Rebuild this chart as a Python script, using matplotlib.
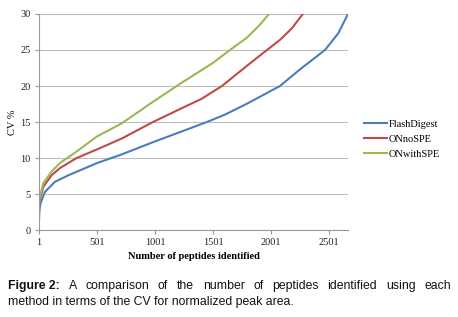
import matplotlib
matplotlib.use("Agg")
import matplotlib.pyplot as plt

# Data
flash_x = [1, 5, 15, 52, 138, 253, 501, 713, 983, 1216, 1431, 1600, 1800, 2078, 2250, 2466, 2580, 2664]
flash_y = [1.2, 2.8, 3.7, 5.3, 6.7, 7.6, 9.3, 10.5, 12.2, 13.6, 14.9, 16.0, 17.6, 20.0, 22.3, 25.0, 27.3, 30.0]

nospe_x = [1, 5, 38, 109, 181, 325, 501, 713, 983, 1216, 1400, 1578, 1793, 1966, 2078, 2180, 2276]
nospe_y = [2.3, 4.0, 6.0, 7.6, 8.6, 10.0, 11.2, 12.7, 15.0, 16.8, 18.2, 20.0, 22.8, 25.0, 26.4, 28.0, 30.0]

withspe_x = [1, 5, 38, 109, 181, 325, 501, 713, 983, 1216, 1500, 1647, 1793, 1905, 1983]
withspe_y = [2.7, 4.3, 6.5, 8.1, 9.3, 10.9, 13.0, 14.8, 17.8, 20.3, 23.2, 25.0, 26.7, 28.5, 30.0]

x_ticks = [1, 501, 1001, 1501, 2001, 2501]
y_ticks = [0, 5, 10, 15, 20, 25, 30]

serif = ["Liberation Serif", "DejaVu Serif"]
sans = ["Liberation Sans", "DejaVu Sans"]

fig = plt.figure(figsize=(4.58, 3.17), dpi=100)
ax = fig.add_axes([0.085, 0.274, 0.675, 0.682])

ax.plot(flash_x, flash_y, color="#4a7ebb", lw=1.5, label="FlashDigest")
ax.plot(nospe_x, nospe_y, color="#be4b48", lw=1.5, label="ONnoSPE")
ax.plot(withspe_x, withspe_y, color="#98b954", lw=1.5, label="ONwithSPE")

ax.set_xlim(1, 2665)
ax.set_ylim(0, 30)
ax.set_xticks(x_ticks)
ax.set_yticks(y_ticks)
ax.set_xticklabels([str(t) for t in x_ticks], fontfamily=serif, fontsize=7.5)
ax.set_yticklabels([str(t) for t in y_ticks], fontfamily=serif, fontsize=7.5)
ax.yaxis.grid(True, color="#bfbfbf", lw=0.8)
ax.set_axisbelow(True)
for s in ["top", "right"]:
    ax.spines[s].set_visible(False)
for s in ["left", "bottom"]:
    ax.spines[s].set_color("#999999")
    ax.spines[s].set_linewidth(0.8)
ax.tick_params(axis="both", colors="#999999", length=3, width=0.8, labelcolor="#222222", pad=3)

ax.set_xlabel("Number of peptides identified", fontfamily=serif, fontsize=7.5, fontweight="bold", labelpad=3)
ax.set_ylabel("CV %", fontfamily=serif, fontsize=7.5, labelpad=2)

leg = ax.legend(loc="center left", bbox_to_anchor=(1.02, 0.42), frameon=False,
                prop={"family": serif, "size": 7.5}, handlelength=2.2, handletextpad=0.2,
                labelspacing=0.55)

# Caption
fig.canvas.draw()
renderer = fig.canvas.get_renderer()
left_px, right_px = 8, 451
words1 = ["A", "comparison", "of", "the", "number", "of", "peptides", "identified", "using", "each"]
fsize = 8.8
y1 = 1 - 289 / 317
y2 = 1 - 305 / 317
t0 = fig.text(left_px / 458, y1, "Figure 2:", fontfamily=sans, fontsize=fsize, fontweight="bold", color="#111111")
texts = [t0]
for w in words1:
    texts.append(fig.text(0, y1, w, fontfamily=sans, fontsize=fsize, color="#111111"))
fig.canvas.draw()
widths = [t.get_window_extent(renderer).width for t in texts]
gap = (right_px - left_px - sum(widths)) / (len(texts) - 1)
xpos = left_px
for t, w in zip(texts, widths):
    t.set_x(xpos / 458)
    xpos += w + gap
fig.text(left_px / 458, y2, "method in terms of the CV for normalized peak area.", fontfamily=sans,
         fontsize=fsize, color="#111111")

fig.savefig("out.png", dpi=100)
